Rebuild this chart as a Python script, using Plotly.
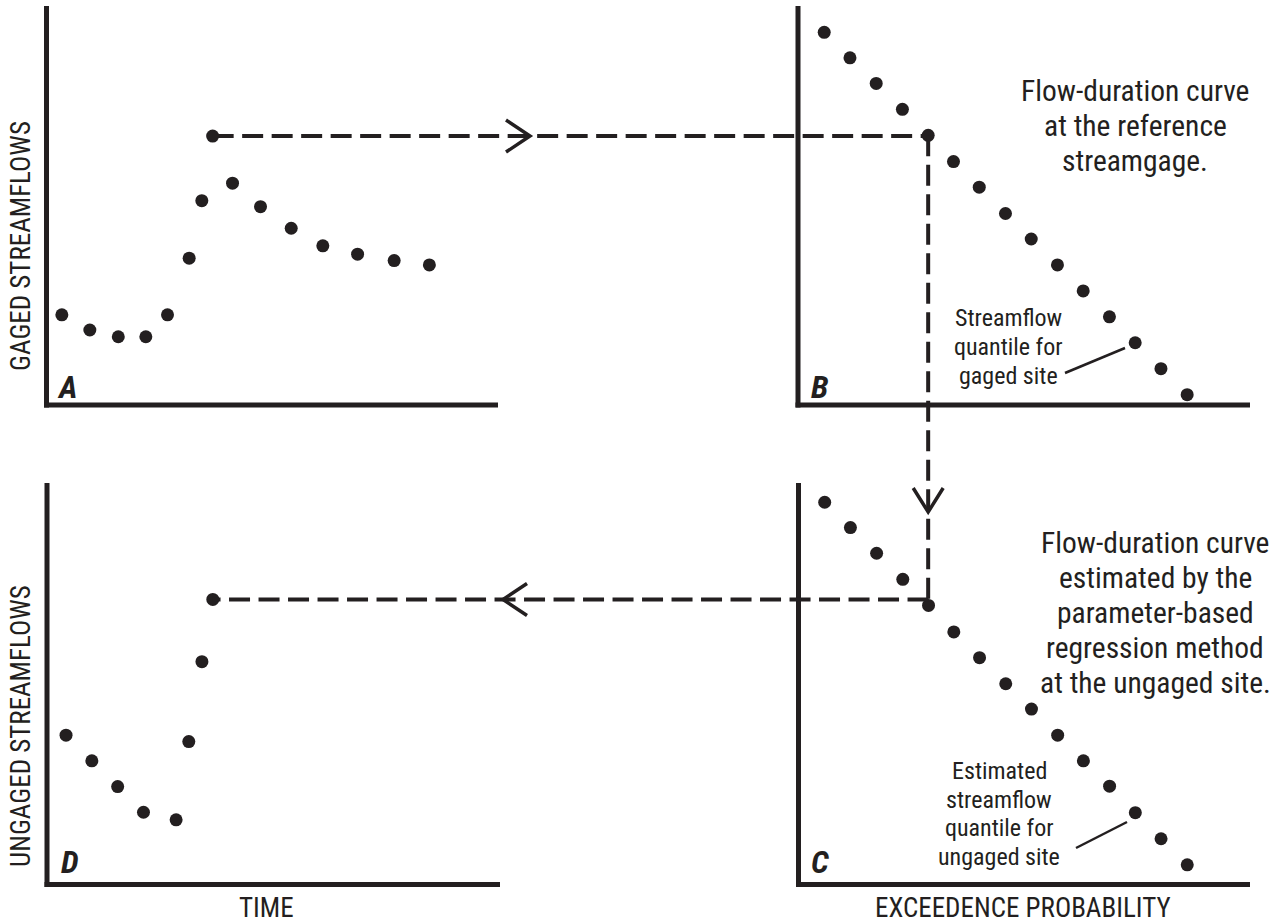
import plotly.graph_objects as go

# ---------------- data (schematic values) ----------------
# Panel A: gaged streamflow time series
time_gaged = [3.4, 9.6, 15.9, 22.0, 26.8, 31.6, 34.4, 36.8, 41.2, 47.4, 54.2, 61.2, 68.9, 77.0, 84.8]
flow_gaged = [22.6, 18.8, 17.1, 17.1, 22.6, 36.8, 51.2, 67.4, 55.6, 49.7, 44.3, 39.9, 37.8, 36.2, 35.1]
# Panel B: flow-duration curve at the reference streamgage
exceed_prob = [5.8, 11.5, 17.3, 23.1, 28.8, 34.4, 40.1, 45.9, 51.6, 57.4, 63.1, 68.9, 74.6, 80.3, 86.1]
fdc_gaged = [93.4, 87.0, 80.6, 74.1, 67.6, 61.0, 54.6, 48.0, 41.6, 35.1, 28.6, 22.1, 15.6, 9.1, 2.6]
# Panel C: flow-duration curve estimated at the ungaged site
fdc_ungaged = [95.2, 88.9, 82.5, 76.0, 69.5, 62.9, 56.5, 50.0, 43.7, 37.2, 30.8, 24.5, 17.9, 11.4, 4.9]
# Panel D: ungaged streamflow time series
time_ungaged = [4.2, 9.9, 15.6, 21.3, 28.5, 31.3, 34.2, 36.6]
flow_ungaged = [37.2, 30.8, 24.4, 18.0, 16.1, 35.6, 55.5, 71.0]

idx_ts = 7      # highlighted time-series day
idx_fdc = 4     # its quantile on the flow-duration curves

# text blocks
note_b = ["Flow-duration curve", "at the reference", "streamgage."]
label_b = ["Streamflow", "quantile for", "gaged site"]
note_c = ["Flow-duration curve", "estimated by the", "parameter-based",
          "regression method", "at the ungaged site."]
label_c = ["Estimated", "streamflow", "quantile for", "ungaged site"]

# ---------------- layout geometry (pixels) ----------------
W, H = 1284, 924
INK = "#231f20"
FONT = "Liberation Sans Narrow, Arial Narrow, Roboto Condensed, Liberation Sans, sans-serif"
RNG = [0, 100]

panels = {
    # name: (xaxis, yaxis, x-domain px, y-domain px (top, bottom))
    "A": ("x", "y", (46.5, 498), (6, 405)),
    "B": ("x2", "y2", (798, 1250), (6, 405)),
    "D": ("x3", "y3", (47, 500), (483, 884.5)),
    "C": ("x4", "y4", (798.5, 1250), (483, 884.5)),
}


def fx(p):
    return p / W


def fy(p):
    return 1 - p / H


def data_to_px(panel, xv, yv):
    _, _, (x0, x1), (yt, yb) = panels[panel]
    px = x0 + (xv - RNG[0]) / (RNG[1] - RNG[0]) * (x1 - x0)
    py = yb - (yv - RNG[0]) / (RNG[1] - RNG[0]) * (yb - yt)
    return px, py


fig = go.Figure()

series = {
    "A": (time_gaged, flow_gaged),
    "B": (exceed_prob, fdc_gaged),
    "C": (exceed_prob, fdc_ungaged),
    "D": (time_ungaged, flow_ungaged),
}
for name, (xs, ys) in series.items():
    xa, ya, _, _ = panels[name]
    fig.add_trace(go.Scatter(x=xs, y=ys, mode="markers", xaxis=xa, yaxis=ya,
                             marker=dict(size=13, color=INK), cliponaxis=False,
                             showlegend=False, hoverinfo="skip"))

layout_axes = {}
for name, (xa, ya, (x0, x1), (yt, yb)) in panels.items():
    xk = "xaxis" + xa[1:]
    yk = "yaxis" + ya[1:]
    layout_axes[xk] = dict(domain=[fx(x0), fx(x1)], range=RNG, visible=False,
                           anchor=ya, fixedrange=True)
    layout_axes[yk] = dict(domain=[fy(yb), fy(yt)], range=RNG, visible=False,
                           anchor=xa, fixedrange=True)

shapes = []
# axis lines (L-shaped frames)
for name, (xa, ya, _, _) in panels.items():
    shapes.append(dict(type="line", xref=xa + " domain", yref=ya + " domain",
                       x0=0, x1=0, y0=-0.006, y1=1, line=dict(color=INK, width=5)))
    shapes.append(dict(type="line", xref=xa + " domain", yref=ya + " domain",
                       x0=-0.0055, x1=1, y0=0, y1=0, line=dict(color=INK, width=5)))

dash = "21px,8.5px"
# connector A -> B (horizontal)
ax_, ay_ = data_to_px("A", time_gaged[idx_ts], flow_gaged[idx_ts])
bx_, by_ = data_to_px("B", exceed_prob[idx_fdc], fdc_gaged[idx_fdc])
shapes.append(dict(type="line", xref="paper", yref="paper", x0=fx(ax_), y0=fy(ay_),
                   x1=fx(bx_), y1=fy(ay_), line=dict(color=INK, width=4, dash=dash)))
# connector B -> C (vertical)
cx_, cy_ = data_to_px("C", exceed_prob[idx_fdc], fdc_ungaged[idx_fdc])
shapes.append(dict(type="line", xref="paper", yref="paper", x0=fx(bx_), y0=fy(by_),
                   x1=fx(bx_), y1=fy(cy_), line=dict(color=INK, width=4, dash=dash)))
# connector C -> D (horizontal)
dx_, dy_ = data_to_px("D", time_ungaged[idx_ts], flow_ungaged[idx_ts])
shapes.append(dict(type="line", xref="paper", yref="paper", x0=fx(cx_), y0=fy(dy_),
                   x1=fx(dx_), y1=fy(dy_), line=dict(color=INK, width=4, dash=dash)))


def chevron(pts):
    d = "M " + " L ".join(f"{fx(x):.5f},{fy(y):.5f}" for x, y in pts)
    return dict(type="path", xref="paper", yref="paper", path=d,
                line=dict(color=INK, width=3.5))


# arrowheads
shapes.append(chevron([(506, ay_ - 16), (530, ay_), (506, ay_ + 16)]))
shapes.append(chevron([(bx_ - 15, 488), (bx_, 512), (bx_ + 15, 488)]))
shapes.append(chevron([(527, dy_ - 16), (503, dy_), (527, dy_ + 16)]))

# leader lines
shapes.append(dict(type="line", xref="paper", yref="paper", x0=fx(1065), y0=fy(373),
                   x1=fx(1125), y1=fy(348), line=dict(color=INK, width=2.5)))
shapes.append(dict(type="line", xref="paper", yref="paper", x0=fx(1076), y0=fy(848),
                   x1=fx(1127), y1=fy(822), line=dict(color=INK, width=2.5)))

annotations = []


def note(text, x, y, size, angle=0, xanchor="center"):
    annotations.append(dict(text=text, x=fx(x), y=fy(y), xref="paper", yref="paper",
                            showarrow=False, textangle=angle, xanchor=xanchor,
                            yanchor="middle", align="center",
                            font=dict(family=FONT, size=size, color=INK)))


def block(lines, x, y_first, pitch, size):
    for i, t in enumerate(lines):
        note(t, x, y_first + i * pitch, size)


note("GAGED STREAMFLOWS", 21, 246, 27, angle=-90)
note("UNGAGED STREAMFLOWS", 21, 726, 27, angle=-90)
note("TIME", 266, 908, 27)
note("EXCEEDENCE PROBABILITY", 1023, 908, 27)

note("<b><i>A</i></b>", 67, 387, 32)
note("<b><i>B</i></b>", 819, 387, 32)
note("<b><i>D</i></b>", 70, 862, 32)
note("<b><i>C</i></b>", 820, 862, 32)

block(note_b, 1135, 91, 35, 29.5)
block(label_b, 1009, 318, 29, 24)
block(note_c, 1155, 543, 35, 29.5)
block(label_c, 999, 771, 28.7, 24)

fig.update_layout(width=W, height=H, margin=dict(l=0, r=0, t=0, b=0),
                  paper_bgcolor="white", plot_bgcolor="white",
                  shapes=shapes, annotations=annotations, showlegend=False,
                  font=dict(family=FONT, color=INK), **layout_axes)

fig.write_html("out.html", config={"displayModeBar": False},
               post_script="document.body.style.margin='0';document.body.style.overflow='hidden';")
